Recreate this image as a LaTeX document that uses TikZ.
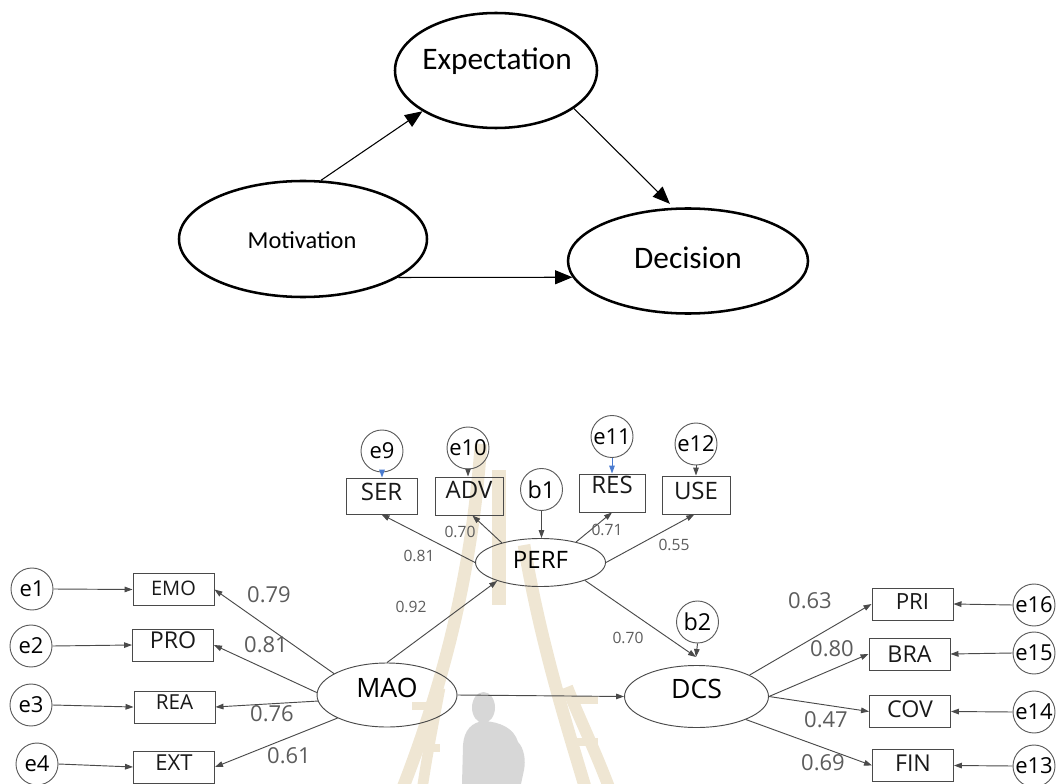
\documentclass[tikz,border=0pt]{standalone}
\usepackage{fontspec}
\setmainfont{Open Sans}
\newfontfamily\calfont{Carlito}
\usetikzlibrary{arrows.meta,shapes.geometric}

\definecolor{linegray}{HTML}{4A4A4A}
\definecolor{labgray}{HTML}{5C5C5C}
\definecolor{errblue}{HTML}{4A7BD0}
\definecolor{towerbeige}{HTML}{EFE6D3}
\definecolor{figgray}{HTML}{D7D7D7}

\begin{document}
\begin{tikzpicture}[x=0.75pt,y=-0.75pt,
  bigell/.style={ellipse, draw=black, line width=1.9pt, inner sep=0pt},
  bigtext/.style={font=\calfont\fontsize{23.5}{23.5}\selectfont, inner sep=0pt},
  bigarrow/.style={line width=0.8pt, -{Triangle[length=13pt,width=10.5pt]}},
  lat/.style={ellipse, draw=linegray, line width=0.7pt, inner sep=0pt},
  obs/.style={rectangle, draw=linegray, line width=0.7pt, inner sep=0pt,
              minimum width=60.75pt, minimum height=24pt, text=black!90},
  err/.style={circle, draw=linegray!90, line width=0.7pt, inner sep=0pt,
              minimum size=31.5pt, font=\fontsize{16.5}{16.5}\selectfont},
  semarrow/.style={draw=linegray, line width=0.7pt, -{Triangle[length=6pt,width=4.2pt]}},
  bluearrow/.style={draw=errblue, line width=0.7pt, -{Triangle[length=6pt,width=4.2pt]}},
  coef/.style={text=labgray, font=\fontsize{16.5}{16.5}\selectfont, inner sep=0pt},
  coefs/.style={text=labgray, font=\fontsize{11.7}{11.7}\selectfont, inner sep=0pt},
  lift/.style={text depth=#1},
  fs/.style={font=\fontsize{#1}{#1}\selectfont},
]
\useasboundingbox (0,0) rectangle (1056,784);

% ---- faint tower emblem and figure in the background ----
\begin{scope}[line cap=butt]
  \draw[towerbeige, line width=9.5pt] (481,444) .. controls (472,570) and (445,680) .. (402,790);
  \draw[towerbeige, line width=10.5pt] (499,470) -- (499,605);
  \draw[towerbeige, line width=8pt] (440,688) .. controls (434,720) and (428,750) .. (422,790);
  \foreach \yy in {706,748} {\draw[towerbeige, line width=6pt] (412,\yy) -- (440,\yy);}
  \draw[towerbeige, line width=9.5pt] (524,545) .. controls (540,640) and (565,720) .. (586,790);
  \draw[towerbeige, line width=9pt] (567,687) .. controls (580,720) and (595,750) .. (610,790);
  \foreach \yy in {700,742} {\draw[towerbeige, line width=6pt] (572,\yy) -- (598,\yy);}
  \fill[figgray] (483.5,707.5) ellipse [x radius=11.5, y radius=15.5];
  \fill[figgray] (462,784) -- (463,745) .. controls (464,730) and (472,722) .. (484,721)
     .. controls (500,722) and (514,728) .. (518,742) .. controls (524,748) and (526,760) .. (524,770)
     -- (521,784) -- cycle;
\end{scope}

% ---- conceptual model ----
\node[bigell, minimum width=151.5pt, minimum height=86.25pt] (Exp) at (496,70.5) {};
\node[bigell, minimum width=186pt, minimum height=87pt] (Mot) at (303,239) {};
\node[bigell, minimum width=180pt, minimum height=78.75pt] (Dec) at (688,261) {};
\node[bigtext] (Expt) at (497,61) {Expectation};
\node[bigtext, font=\calfont\fontsize{18.3}{18.3}\selectfont] (Mott) at (302,240) {Motivation};
\node[bigtext] (Dect) at (688,258) {Decision};

\draw[bigarrow] (Mot.73) -- (Exp.209);
\draw[bigarrow, shorten >=4pt] (Exp.334) -- (Dec.105);
\draw[bigarrow] (Mot.-22) -- (Dec.188);

% ---- structural model: latent variables ----
\node[lat, minimum width=105pt, minimum height=48pt, fs=20, lift=10.5pt] (MAO) at (387,695) {MAO};
\node[lat, minimum width=97.5pt, minimum height=36pt, fs=18, lift=4.5pt] (PERF) at (540.5,562.5) {PERF};
\node[lat, minimum width=108pt, minimum height=46.5pt, fs=20, lift=12pt] (DCS) at (696.5,696.5) {DCS};
\coordinate (dcsin) at (696,657);

% indicators of MAO
\node[obs, fs=15, lift=2pt] (EMO) at (173.5,589.5) {EMO};
\node[obs, fs=17.4, lift=7pt] (PRO) at (173,645) {PRO};
\node[obs, fs=15.5, lift=7pt] (REA) at (174.5,707) {REA};
\node[obs, fs=16.5, lift=6pt] (EXT) at (174,767) {EXT};
\node[err] (e1) at (32,589) {e1};
\node[err] (e2) at (31,646) {e2};
\node[err] (e3) at (31,705) {e3};
\node[err] (e4) at (37,764) {e4};

% indicators of PERF
\node[obs, minimum width=53.25pt, minimum height=27pt, fs=18, lift=7pt] (SER) at (381.5,496) {SER};
\node[obs, minimum width=51pt, minimum height=28.5pt, fs=18, lift=9pt] (ADV) at (469,496) {ADV};
\node[obs, minimum width=49.5pt, minimum height=28.5pt, fs=18, lift=12pt] (RES) at (612,493) {RES};
\node[obs, minimum width=51pt, minimum height=28.5pt, fs=18, lift=7pt] (USE) at (696,495) {USE};
\node[err] (e9) at (382,451) {e9};
\node[err] (e10) at (468,448) {e10};
\node[err] (e11) at (612,436.5) {e11};
\node[err] (e12) at (696,444) {e12};
\node[err, fs=17.5] (b1) at (541.5,489.5) {b1};
\node[err, fs=17.5] (b2) at (697.5,622) {b2};

% indicators of DCS
\node[obs, fs=16.7, lift=4pt] (PRI) at (912.5,604) {PRI};
\node[obs, fs=17.4] (BRA) at (909.5,654) {BRA};
\node[obs, fs=17.4, lift=4pt] (COV) at (910,711.5) {COV};
\node[obs, fs=17.4, lift=3pt] (FIN) at (913,765.5) {FIN};
\node[err] (e16) at (1034,605) {e16};
\node[err] (e15) at (1034,653) {e15};
\node[err] (e14) at (1034,712) {e14};
\node[err] (e13) at (1034,766) {e13};

% error terms
\draw[semarrow] (e1.east) -- (EMO.west);
\draw[semarrow] (e2.east) -- (PRO.west);
\draw[semarrow] (e3.east) -- (REA.west);
\draw[semarrow] (e4.east) -- (EXT.west);
\draw[bluearrow] (e9.south) -- (e9.south |- SER.north);
\draw[semarrow] (e10.south) -- (e10.south |- ADV.north);
\draw[bluearrow] (e11.south) -- (RES.north);
\draw[semarrow] (e12.south) -- (USE.north);
\draw[semarrow] (b1.south) -- (b1.south |- PERF.north);
\draw[semarrow] (b2.south) -- (dcsin);
\draw[semarrow] (e16.west) -- (PRI.east);
\draw[semarrow] (e15.west) -- (BRA.east);
\draw[semarrow] (e14.west) -- (COV.east);
\draw[semarrow] (e13.west) -- (FIN.east);

% loadings
\draw[semarrow] (MAO.158) -- (EMO.east);
\draw[semarrow] (MAO.178) -- (PRO.east);
\draw[semarrow] (MAO.185) -- (REA.east);
\draw[semarrow] (MAO.205) -- (EXT.east);
\draw[semarrow] (PERF.west) -- (SER.south);
\draw[semarrow] (PERF.153) -- (ADV.-80);
\draw[semarrow] (PERF.30) -- (RES.south);
\draw[semarrow] (PERF.east) -- (USE.-95);
\draw[semarrow] (DCS.22) -- (PRI.west);
\draw[semarrow] (DCS.east) -- (BRA.west);
\draw[semarrow] (DCS.east) -- (COV.west);
\draw[semarrow] (DCS.335) -- (FIN.west);

% structural paths
\draw[semarrow] (MAO.north) -- (PERF.203);
\draw[semarrow] (MAO.east) -- (DCS.west);
\draw[semarrow] (PERF.338) -- (dcsin);

% coefficients
\node[coef] (c1) at (269,595) {0.79};
\node[coef] (c2) at (266,645) {0.81};
\node[coef] (c3) at (272,714) {0.76};
\node[coef] (c4) at (289,756) {0.61};
\node[coef] (c5) at (810,601) {0.63};
\node[coef] (c6) at (832,649) {0.80};
\node[coef] (c7) at (826,720) {0.47};
\node[coef] (c8) at (823,763) {0.69};
\node[coefs] (c9) at (419,556) {0.81};
\node[coefs] (c10) at (460,532) {0.70};
\node[coefs] (c11) at (607,530) {0.71};
\node[coefs] (c12) at (674,545) {0.55};
\node[coefs] (c13) at (411,607) {0.92};
\node[coefs] (c14) at (628,638) {0.70};
\end{tikzpicture}
\end{document}
